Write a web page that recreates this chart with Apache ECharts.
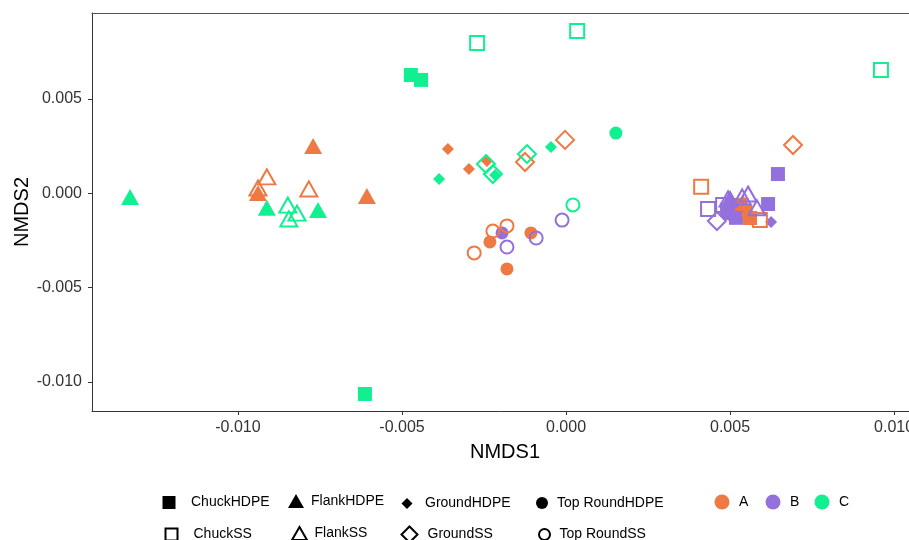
<!DOCTYPE html>
<html>
<head>
<meta charset="utf-8">
<script src="https://cdn.jsdelivr.net/npm/echarts@6/dist/echarts.min.js"></script>
<style>html,body{margin:0;padding:0;background:#fff}#c{width:909px;height:540px}</style>
</head>
<body>
<div id="c"></div>
<script>
// Each entry: [NMDS1, NMDS2, group]
const chuckHDPE = [
  [-0.00473, 0.00627, 'C'], [-0.00442, 0.00601, 'C'], [-0.00613, -0.01064, 'C'],
  [0.00646, 0.00102, 'B'], [0.00616, -0.00057, 'B'], [0.00500, -0.00104, 'B'],
  [0.00518, -0.00130, 'B'], [0.00491, -0.00088, 'B'],
  [0.00546, -0.00099, 'A'], [0.00561, -0.00131, 'A'], [0.00530, -0.00062, 'A']
];
const chuckSS = [
  [-0.00271, 0.00797, 'C'], [0.00034, 0.00860, 'C'], [0.00960, 0.00653, 'C'],
  [0.00412, 0.00035, 'A'], [0.00591, -0.00141, 'A'],
  [0.00433, -0.00083, 'B'], [0.00479, -0.00062, 'B']
];
const flankHDPE = [
  [-0.01329, -0.00020, 'C'], [-0.00912, -0.00077, 'C'], [-0.00756, -0.00088, 'C'],
  [-0.00771, 0.00251, 'A'], [-0.00607, -0.00014, 'A'], [-0.00939, 0.00002, 'A'],
  [0.00500, -0.00025, 'B'], [0.00540, -0.00050, 'A']
];
const flankSS = [
  [-0.00912, 0.00087, 'A'], [-0.00784, 0.00023, 'A'], [-0.00939, 0.00028, 'A'],
  [-0.00848, -0.00063, 'C'], [-0.00820, -0.00105, 'C'], [-0.00845, -0.00136, 'C'],
  [0.00537, -0.00019, 'B'], [0.00555, -0.00004, 'B'], [0.00582, -0.00077, 'B'], [0.00494, -0.00030, 'B']
];
const groundHDPE = [
  [-0.00360, 0.00235, 'A'], [-0.00296, 0.00129, 'A'], [-0.00241, 0.00171, 'A'],
  [-0.00387, 0.00076, 'C'], [-0.00046, 0.00245, 'C'], [-0.00216, 0.00097, 'C'],
  [0.00625, -0.00152, 'B'], [0.00509, -0.00136, 'B']
];
const groundSS = [
  [-0.00003, 0.00283, 'A'], [0.00692, 0.00256, 'A'], [-0.00125, 0.00166, 'A'],
  [-0.00119, 0.00208, 'C'], [-0.00244, 0.00155, 'C'], [-0.00223, 0.00102, 'C'],
  [0.00460, -0.00147, 'B']
];
const topRoundHDPE = [
  [0.00152, 0.00319, 'C'],
  [-0.00232, -0.00258, 'A'], [-0.00180, -0.00401, 'A'], [-0.00107, -0.00210, 'A'], [0.00555, -0.00116, 'A'],
  [-0.00195, -0.00210, 'B']
];
const topRoundSS = [
  [-0.00280, -0.00316, 'A'], [-0.00223, -0.00200, 'A'], [-0.00180, -0.00173, 'A'],
  [-0.00180, -0.00285, 'B'], [-0.00091, -0.00237, 'B'], [-0.00012, -0.00142, 'B'],
  [0.00021, -0.00062, 'C']
];
const groups = ['A', 'B', 'C'];
const groupColors = {A: '#EE7942', B: '#9370DB', C: '#10F090'};
const xTicks = [-0.010, -0.005, 0.000, 0.005, 0.010];
const yTicks = [-0.010, -0.005, 0.000, 0.005];

const FONT = 'Liberation Sans, Arial, sans-serif';
const shapes = [
  {name: 'ChuckHDPE', data: chuckHDPE, symbol: 'rect', size: 14, open: false},
  {name: 'FlankHDPE', data: flankHDPE, symbol: 'triangle', size: [18, 16], open: false},
  {name: 'GroundHDPE', data: groundHDPE, symbol: 'diamond', size: 12, open: false},
  {name: 'Top RoundHDPE', data: topRoundHDPE, symbol: 'circle', size: 13, open: false},
  {name: 'ChuckSS', data: chuckSS, symbol: 'rect', size: 14, open: true},
  {name: 'FlankSS', data: flankSS, symbol: 'triangle', size: [17, 15], open: true},
  {name: 'GroundSS', data: groundSS, symbol: 'diamond', size: 18, open: true},
  {name: 'Top RoundSS', data: topRoundSS, symbol: 'circle', size: 13, open: true}
];

const series = [];
shapes.forEach(s => {
  groups.forEach(g => {
    const pts = s.data.filter(d => d[2] === g).map(d => [d[0], d[1]]);
    series.push({
      type: 'scatter', name: g + ' ' + s.name, data: pts,
      symbol: s.symbol, symbolSize: s.size, z: s.open ? 3 : 2,
      itemStyle: s.open ? {color: 'none', borderColor: groupColors[g], borderWidth: 2, opacity: 1}
                        : {color: groupColors[g], borderWidth: 0, opacity: 1},
      emphasis: {disabled: true}, silent: true
    });
  });
});
// legend layout: [icon centre x, text start x, row centre y, icon w, icon h]
const legendPos = {
  'ChuckHDPE': [169, 191, 502, 13, 13], 'FlankHDPE': [296, 311, 501, 16, 14],
  'GroundHDPE': [407, 425, 502, 11, 11], 'Top RoundHDPE': [542, 557, 502, 12, 12],
  'ChuckSS': [169, 191, 532, 12, 12], 'FlankSS': [297, 312, 531, 15, 13],
  'GroundSS': [407, 425, 532, 16, 16], 'Top RoundSS': [542, 557, 532, 11, 11]
};
const legends = [];
function addLegend(name, icon, st, p) {
  const left = p[0] - p[3] / 2;
  const pad = Math.max(0, p[1] - (left + p[3] + 5));
  legends.push({
    left: left, top: p[2] - p[4] / 2, padding: 0,
    itemWidth: p[3], itemHeight: p[4], selectedMode: false,
    textStyle: {fontSize: 14, color: '#000', fontFamily: FONT, padding: [0, 0, 0, pad]},
    data: [{name: name, icon: icon, itemStyle: st}]
  });
}
shapes.forEach(s => {
  const st = s.open ? {color: 'none', borderColor: '#000', borderWidth: 2, opacity: 1}
                    : {color: '#000', borderWidth: 0, opacity: 1};
  series.push({type: 'scatter', name: s.name, data: [], symbol: s.symbol, itemStyle: st});
  addLegend(s.name, s.symbol, st, legendPos[s.name]);
});
const grpPos = {A: [722, 739], B: [773, 790], C: [822, 839]};
groups.forEach(g => {
  const st = {color: groupColors[g], opacity: 1};
  series.push({type: 'scatter', name: g, data: [], symbol: 'circle', itemStyle: st});
  addLegend(g, 'circle', st, [grpPos[g][0], grpPos[g][1], 502, 15, 15]);
});

const XMIN = -0.01445, XMAX = 0.01073, YMIN = -0.01154, YMAX = 0.009556;
const chart = echarts.init(document.getElementById('c'), null, {renderer: 'canvas'});
chart.setOption({
  animation: false,
  backgroundColor: '#fff',
  grid: {left: 92, top: 13, width: 826, height: 398, show: false, outerBoundsMode: 'none', containLabel: false},
  xAxis: [{
    type: 'value', min: XMIN, max: XMAX, position: 'bottom',
    name: 'NMDS1', nameLocation: 'middle', nameGap: 31, nameMoveOverlap: false,
    nameTextStyle: {fontSize: 20, color: '#000', fontFamily: FONT},
    axisLine: {show: true, onZero: false, lineStyle: {color: '#333', width: 1}},
    axisTick: {show: true, length: 4, lineStyle: {color: '#333'}, customValues: xTicks},
    axisLabel: {customValues: xTicks, fontSize: 16, color: '#333', margin: 9, hideOverlap: false,
      fontFamily: FONT, formatter: v => v.toFixed(3)},
    splitLine: {show: false}
  }, {
    type: 'value', min: XMIN, max: XMAX, position: 'top',
    axisLine: {show: true, onZero: false, lineStyle: {color: '#555', width: 1}},
    axisTick: {show: false}, axisLabel: {show: false}, splitLine: {show: false}
  }],
  yAxis: {
    type: 'value', min: YMIN, max: YMAX,
    name: 'NMDS2', nameLocation: 'middle', nameGap: 60, nameMoveOverlap: false,
    nameTextStyle: {fontSize: 20, color: '#000', fontFamily: FONT},
    axisLine: {show: true, onZero: false, lineStyle: {color: '#333', width: 1}},
    axisTick: {show: true, length: 4, lineStyle: {color: '#333'}, customValues: yTicks},
    axisLabel: {customValues: yTicks, fontSize: 16, color: '#333', margin: 10,
      fontFamily: FONT, formatter: v => v.toFixed(3)},
    splitLine: {show: false}
  },
  legend: legends,
  series: series
});
</script>
</body>
</html>
